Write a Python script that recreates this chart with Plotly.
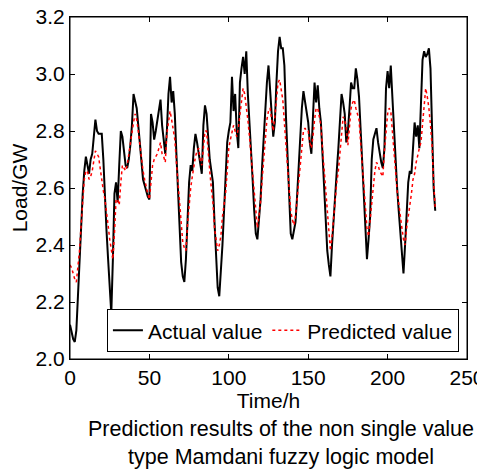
import plotly.graph_objects as go

hours = list(range(231))

actual = [
    2.12, 2.09, 2.07, 2.06, 2.10, 2.22, 2.35, 2.48, 2.58, 2.66,
    2.71, 2.68, 2.65, 2.70, 2.72, 2.78, 2.84, 2.80, 2.79, 2.79,
    2.79, 2.70, 2.55, 2.45, 2.35, 2.25, 2.16, 2.35, 2.58, 2.62,
    2.55, 2.68, 2.80, 2.78, 2.72, 2.68, 2.67, 2.70, 2.75, 2.82,
    2.93, 2.90, 2.88, 2.82, 2.76, 2.70, 2.63, 2.61, 2.59, 2.57,
    2.56, 2.86, 2.83, 2.77, 2.80, 2.84, 2.88, 2.91, 2.82, 2.77,
    2.72, 2.80, 2.93, 2.99, 2.90, 2.94, 2.86, 2.72, 2.58, 2.45,
    2.34, 2.29, 2.27, 2.35, 2.50, 2.62, 2.68, 2.66, 2.74, 2.79,
    2.76, 2.72, 2.68, 2.65, 2.82, 2.89, 2.86, 2.78, 2.70, 2.66,
    2.62, 2.48, 2.35, 2.25, 2.22, 2.30, 2.40, 2.52, 2.65, 2.76,
    2.80, 2.83, 2.99, 2.87, 2.93, 2.80, 2.74, 2.97, 3.02, 3.06,
    3.00, 3.08, 2.93, 2.84, 2.74, 2.63, 2.52, 2.44, 2.42, 2.50,
    2.56, 2.68, 2.78, 2.88, 2.97, 3.03, 2.93, 2.86, 2.78, 2.83,
    2.97, 3.08, 3.13, 3.09, 3.09, 3.03, 2.85, 2.70, 2.52, 2.44,
    2.42, 2.45, 2.48, 2.57, 2.68, 2.80, 2.88, 2.94, 2.90, 2.86,
    2.83, 2.76, 2.72, 2.85, 2.97, 2.90, 2.96, 2.88, 2.83, 2.72,
    2.62, 2.48, 2.38, 2.33, 2.29, 2.40, 2.50, 2.58, 2.66, 2.74,
    2.82, 2.93, 2.90, 2.86, 2.76, 2.80, 2.88, 2.97, 2.95, 2.95,
    3.02, 2.98, 2.92, 2.81, 2.68, 2.55, 2.45, 2.35, 2.42, 2.50,
    2.70, 2.77, 2.79, 2.81, 2.76, 2.72, 2.69, 2.67, 2.74, 2.95,
    3.01, 2.95, 3.03, 2.92, 2.80, 2.68, 2.60, 2.52, 2.45, 2.36,
    2.30, 2.40, 2.54, 2.62, 2.66, 2.65, 2.74, 2.83, 2.78, 2.82,
    2.74, 2.90, 3.05, 3.08, 3.06, 3.07, 3.09, 3.02, 2.82, 2.60,
    2.52,
]

predicted = [
    2.33, 2.32, 2.30, 2.28, 2.27, 2.32, 2.38, 2.47, 2.57, 2.63,
    2.66, 2.66, 2.63, 2.64, 2.66, 2.70, 2.73, 2.72, 2.71, 2.67,
    2.62, 2.59, 2.56, 2.52, 2.47, 2.42, 2.38, 2.35, 2.44, 2.56,
    2.56, 2.54, 2.62, 2.68, 2.67, 2.66, 2.68, 2.72, 2.75, 2.79,
    2.83, 2.86, 2.84, 2.80, 2.75, 2.70, 2.66, 2.63, 2.60, 2.58,
    2.56, 2.62, 2.68, 2.70, 2.71, 2.72, 2.74, 2.76, 2.72, 2.71,
    2.69, 2.79, 2.83, 2.87, 2.84, 2.81, 2.77, 2.69, 2.62, 2.53,
    2.46, 2.41, 2.39, 2.38, 2.47, 2.55, 2.60, 2.64, 2.68, 2.71,
    2.73, 2.74, 2.70, 2.68, 2.74, 2.80, 2.80, 2.72, 2.66, 2.60,
    2.55, 2.46, 2.41, 2.38, 2.40, 2.43, 2.50, 2.54, 2.58, 2.66,
    2.74, 2.77, 2.80, 2.82, 2.80, 2.78, 2.81, 2.86, 2.91, 2.95,
    2.93, 2.89, 2.84, 2.78, 2.71, 2.64, 2.57, 2.50, 2.46, 2.50,
    2.55, 2.63, 2.70, 2.78, 2.84, 2.87, 2.88, 2.84, 2.80, 2.85,
    2.92, 2.97, 2.98, 2.95, 2.91, 2.83, 2.75, 2.66, 2.58, 2.52,
    2.49, 2.47, 2.50, 2.56, 2.62, 2.69, 2.76, 2.80, 2.81, 2.80,
    2.80, 2.76, 2.74, 2.78, 2.84, 2.88, 2.88, 2.85, 2.82, 2.74,
    2.67, 2.59, 2.51, 2.44, 2.38, 2.43, 2.50, 2.56, 2.62, 2.66,
    2.72, 2.80, 2.85, 2.84, 2.81, 2.75, 2.82, 2.88, 2.90, 2.91,
    2.88, 2.86, 2.84, 2.76, 2.68, 2.60, 2.52, 2.46, 2.43, 2.49,
    2.56, 2.62, 2.66, 2.69, 2.68, 2.66, 2.65, 2.64, 2.73, 2.80,
    2.86, 2.88, 2.87, 2.80, 2.74, 2.66, 2.59, 2.54, 2.50, 2.46,
    2.42, 2.40, 2.46, 2.50, 2.53, 2.58, 2.63, 2.65, 2.69, 2.72,
    2.74, 2.76, 2.83, 2.88, 2.95, 2.92, 2.88, 2.82, 2.75, 2.62,
    2.53,
]

x_ticks = [0, 50, 100, 150, 200, 250]
y_ticks = [2.0, 2.2, 2.4, 2.6, 2.8, 3.0, 3.2]
y_tick_labels = ["2.0", "2.2", "2.4", "2.6", "2.8", "3.0", "3.2"]

font_family = "Liberation Sans, Arial, sans-serif"

fig = go.Figure()
fig.add_trace(go.Scatter(
    x=hours, y=actual, mode="lines", name="Actual value",
    line=dict(color="black", width=2),
))
fig.add_trace(go.Scatter(
    x=hours, y=predicted, mode="lines", name="Predicted value",
    line=dict(color="red", width=1.5, dash="dot"),
))

# page body has an 8px default margin; compensate in figure size/margins
fig.update_layout(
    width=477, height=463,
    margin=dict(l=62, r=18, t=9, b=112, autoexpand=False),
    paper_bgcolor="white", plot_bgcolor="white",
    font=dict(family=font_family, size=21, color="black"),
    showlegend=True,
    legend=dict(
        orientation="h", x=0.093, y=0.02, xanchor="left", yanchor="bottom",
        bgcolor="white", bordercolor="black", borderwidth=1,
        font=dict(size=21), itemwidth=30, tracegroupgap=0,
    ),
    xaxis=dict(
        range=[0, 250], tickvals=x_ticks, ticks="inside", ticklen=5,
        tickcolor="black", showline=True, linecolor="black", linewidth=1,
        mirror="ticks", showgrid=False, zeroline=False, automargin=False,
        title=dict(text="Time/h", standoff=0, font=dict(size=21)),
        tickfont=dict(size=21), ticklabeloverflow="allow",
    ),
    yaxis=dict(
        range=[2.0, 3.2], tickvals=y_ticks, ticktext=y_tick_labels,
        ticks="inside", ticklen=5, tickcolor="black", showline=True,
        linecolor="black", linewidth=1, mirror="ticks", showgrid=False,
        zeroline=False, automargin=False,
        title=dict(text="Load/GW", standoff=4, font=dict(size=21)),
        tickfont=dict(size=21), ticklabeloverflow="allow",
    ),
    shapes=[dict(
        type="rect", xref="paper", yref="paper", x0=0, y0=0, x1=1, y1=1,
        line=dict(color="black", width=1), fillcolor="rgba(0,0,0,0)",
        layer="above",
    )],
    annotations=[dict(
        text="Prediction results of the non single value<br>type Mamdani fuzzy logic model",
        xref="paper", yref="paper", x=0.531, y=-0.165,
        xanchor="center", yanchor="top", showarrow=False,
        font=dict(size=21.5, family=font_family), align="center",
    )],
)

fig.write_html("out.html")
